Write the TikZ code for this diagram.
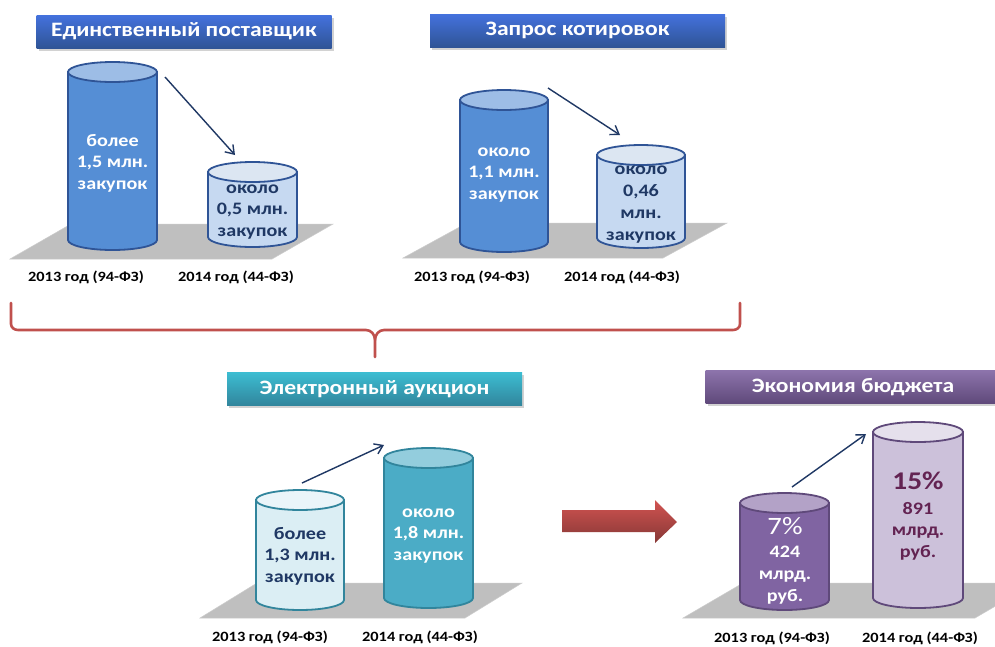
\documentclass[tikz,border=0pt]{standalone}
\usepackage{fontspec}
\setmainfont[FakeStretch=1.15]{Carlito}
\usetikzlibrary{arrows.meta,shadows}
\definecolor{navy}{HTML}{1F3864}
\definecolor{bluebody}{HTML}{558ED5}
\definecolor{bluetop}{HTML}{9DBDE6}
\definecolor{blueedge}{HTML}{2F5496}
\definecolor{lbluebody}{HTML}{C6D9F1}
\definecolor{lbluetop}{HTML}{DCE6F2}
\definecolor{tealbody}{HTML}{4BACC6}
\definecolor{tealtop}{HTML}{93CDDD}
\definecolor{tealedge}{HTML}{31859C}
\definecolor{ltealbody}{HTML}{DBEEF4}
\definecolor{ltealtop}{HTML}{EAF5F9}
\definecolor{purpbody}{HTML}{8064A2}
\definecolor{purptop}{HTML}{B3A2C7}
\definecolor{purpedge}{HTML}{5F497A}
\definecolor{lpurpbody}{HTML}{CCC1DA}
\definecolor{lpurptop}{HTML}{E5E0EC}
\definecolor{maroon}{HTML}{632352}
\definecolor{bracered}{HTML}{C0504D}
\definecolor{platgray}{HTML}{BFBFBF}
\newcommand\mycyl[7]{%
  \pgfmathsetmacro\myrx{(#2-#1)/2}%
  \pgfmathsetmacro\mycx{(#2+#1)/2}%
  \draw[draw=#7, line width=1.8pt, fill=#5] (#1,#3) -- (#1,#4)
     arc[start angle=180, end angle=360, x radius=\myrx pt, y radius=10pt] -- (#2,#3) -- cycle;
  \draw[draw=#7, line width=1.8pt, fill=#6] (\mycx,#3) ellipse[x radius=\myrx pt, y radius=10pt];
}
\begin{document}
\begin{tikzpicture}[x=1pt,y=-1pt,
  titlebox/.style={minimum width=295pt, minimum height=33pt, inner sep=0pt,
     text=white, font=\bfseries\fontsize{20.5}{22}\selectfont,
     drop shadow={shadow xshift=2pt, shadow yshift=-2.5pt, opacity=0.35}},
  bluetitle/.style={titlebox, top color=blue!20!bluebody, bottom color=blueedge},
  tealtitle/.style={titlebox, top color=tealbody!80!cyan, bottom color=tealedge},
  purptitle/.style={titlebox, top color=purpbody!90!white, bottom color=purpedge},
  cyltext/.style={align=center, inner sep=0pt, font=\bfseries\fontsize{17.5}{21.5}\selectfont},
  yearlabel/.style={inner sep=0pt, font=\bfseries\fontsize{14.2}{16}\selectfont},
  platform/.style={fill=platgray, draw=black!20, line width=0.5pt},
  trendarrow/.style={draw=navy, line width=1.4pt, -{Straight Barb[length=8pt, width=11pt, line width=1.4pt]}},
]
\useasboundingbox (0,0) rectangle (995,646);
\clip (0,0) rectangle (995,646);
\fill[white] (0,0) rectangle (995,646);

% ---------- Panel 1 ----------
\node[bluetitle] (t1) at (184,31.5) {Единственный поставщик};
\draw[platform] (10,259) -- (272,259) -- (333,224) -- (71,224) -- cycle;
\mycyl{68}{157}{72}{240}{bluebody}{bluetop}{blueedge}
\mycyl{208}{297}{172}{237}{lbluebody}{lbluetop}{blueedge}
\node[cyltext, text=white] (c1a) at (112.5,163) {более\\1,5 млн.\\закупок};
\node[cyltext, text=navy] (c1b) at (252.5,212) {около\\0,5 млн.\\закупок};
\coordinate (a1s) at (165,77);
\coordinate (a1e) at (235,155);
\draw[trendarrow] (a1s) -- (a1e);
\node[yearlabel] (y1a) at (86,277) {2013 год (94-ФЗ)};
\node[yearlabel] (y1b) at (236,277) {2014 год (44-ФЗ)};

% ---------- Panel 2 ----------
\node[bluetitle] (t2) at (577.5,30.5) {Запрос котировок};
\draw[platform] (403,258) -- (663,258) -- (727,223) -- (467,223) -- cycle;
\mycyl{460}{548}{100}{242}{bluebody}{bluetop}{blueedge}
\mycyl{597}{685}{155}{238}{lbluebody}{lbluetop}{blueedge}
\node[cyltext, text=white] (c2a) at (504,175) {около\\1,1 млн.\\закупок};
\node[cyltext, text=navy, font=\bfseries\fontsize{17.5}{22}\selectfont] (c2b) at (641,205) {около\\0,46\\млн.\\закупок};
\coordinate (a2s) at (548,88);
\coordinate (a2e) at (620,135);
\draw[trendarrow] (a2s) -- (a2e);
\node[yearlabel] (y2a) at (472,277) {2013 год (94-ФЗ)};
\node[yearlabel] (y2b) at (622,277) {2014 год (44-ФЗ)};

% ---------- Brace ----------
\coordinate (bl) at (11,303);
\coordinate (br) at (740,303);
\coordinate (bt) at (375,357);
\draw[bracered, line width=2.6pt, line cap=round, line join=round]
  (bl) -- (11,324) to[out=-90,in=180] (18,330) -- (366,330) to[out=0,in=90] (375,340) -- (bt);
\draw[bracered, line width=2.6pt, line cap=round, line join=round]
  (br) -- (740,324) to[out=-90,in=0] (733,330) -- (384,330) to[out=180,in=90] (375,340);

% ---------- Panel 3 ----------
\node[tealtitle] (t3) at (374.5,389) {Электронный аукцион};
\draw[platform] (200,618) -- (465,618) -- (522,583) -- (257,583) -- cycle;
\mycyl{256}{344}{500}{600}{ltealbody}{ltealtop}{tealedge}
\mycyl{384}{473}{458}{598}{tealbody}{tealtop}{tealedge}
\node[cyltext, text=navy] (c3a) at (300,556) {более\\1,3 млн.\\закупок};
\node[cyltext, text=white] (c3b) at (428.5,536) {около\\1,8 млн.\\закупок};
\coordinate (a3s) at (302,483);
\coordinate (a3e) at (384,445);
\draw[trendarrow] (a3s) -- (a3e);
\node[yearlabel] (y3a) at (270,637) {2013 год (94-ФЗ)};
\node[yearlabel] (y3b) at (420,637) {2014 год (44-ФЗ)};

% ---------- Red block arrow ----------
\shade[top color=bracered!80!red!90!white, bottom color=bracered!70!black, draw=none]
  (562,510) -- (655,510) -- (655,500) -- (677,522) -- (655,543) -- (655,532) -- (562,532) -- cycle;

% ---------- Panel 4 ----------
\node[purptitle] (t4) at (853,387) {Экономия бюджета};
\draw[platform] (683,618) -- (975,618) -- (1035,583) -- (743,583) -- cycle;
\mycyl{740}{829}{503}{600}{purpbody}{purptop}{purpedge}
\mycyl{873}{963}{432}{598}{lpurpbody}{lpurptop}{purpedge}
\node[inner sep=0pt, text=white, font=\fontsize{25}{27}\selectfont] (p7) at (785,526) {7\%};
\node[cyltext, text=white, font=\bfseries\fontsize{17.5}{22}\selectfont] (c4a) at (785,575) {424\\млрд.\\руб.};
\node[inner sep=0pt, text=maroon, font=\bfseries\fontsize{25.5}{28}\selectfont] (p15) at (918,481) {15\%};
\node[cyltext, text=maroon] (c4b) at (918,531) {891\\млрд.\\руб.};
\coordinate (a4s) at (792,487);
\coordinate (a4e) at (866,434);
\draw[trendarrow] (a4s) -- (a4e);
\node[yearlabel] (y4a) at (772,638) {2013 год (94-ФЗ)};
\node[yearlabel] (y4b) at (920,638) {2014 год (44-ФЗ)};
\end{tikzpicture}
\end{document}
